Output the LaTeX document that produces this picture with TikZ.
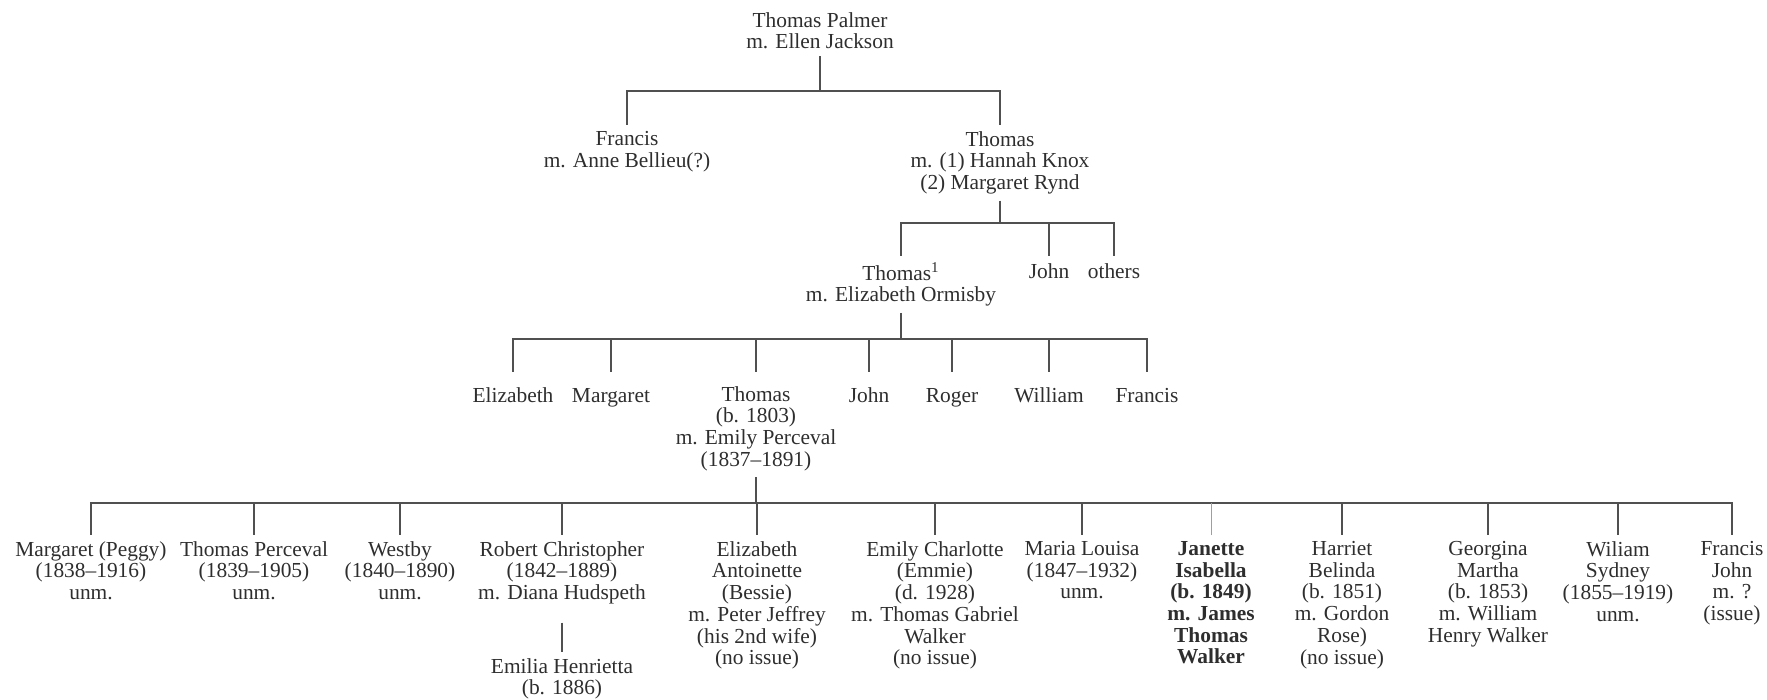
\documentclass[tikz,border=0pt]{standalone}
\usepackage{fontspec}
\setmainfont{Liberation Serif}
\definecolor{ink}{HTML}{2E2E2E}
\definecolor{wire}{HTML}{505050}
\begin{document}
\begin{tikzpicture}[x=0.5pt,y=-0.5pt,
  person/.style={anchor=north, align=center, inner xsep=0pt, inner ysep=3pt,
    text=ink, font=\fontsize{10.7}{10.85}\selectfont,
    execute at begin node={\rule{0pt}{8pt}},
    execute at end node={\rule[-0.5pt]{0pt}{0.5pt}}},
  link/.style={draw=wire, line width=0.6pt},
  faint/.style={draw=wire!55, line width=0.5pt},
]
\useasboundingbox (0,0) rectangle (1767,700);

% generation 0 and 1
\node[person] (palmer)   at (820,6)    {Thomas Palmer\\m. Ellen Jackson};
\node[person] (francisA) at (627,125)  {Francis\\m. Anne Bellieu(?)};
\node[person] (thomasA)  at (1000,125) {Thomas\\m. (1) Hannah Knox\\(2) Margaret Rynd};

% generation 2
\node[person] (thomasB)  at (901,256)  {Thomas\textsuperscript{1}\\m. Elizabeth Ormisby};
\node[person] (johnB)    at (1049,256) {John};
\node[person] (othersB)  at (1114,256) {others};

% generation 3
\node[person] (elizC)    at (513,380)  {Elizabeth};
\node[person] (margC)    at (611,380)  {Margaret};
\node[person] (thomasC)  at (756,380)  {Thomas\\(b. 1803)\\m. Emily Perceval\\(1837--1891)};
\node[person] (johnC)    at (869,380)  {John};
\node[person] (rogerC)   at (952,380)  {Roger};
\node[person] (willC)    at (1049,380) {William};
\node[person] (francisC) at (1147,380) {Francis};

% generation 4
\node[person] (peggy)    at (91,535)   {Margaret (Peggy)\\(1838--1916)\\unm.};
\node[person] (tperc)    at (254,535)  {Thomas Perceval\\(1839--1905)\\unm.};
\node[person] (westby)   at (400,535)  {Westby\\(1840--1890)\\unm.};
\node[person] (robert)   at (562,535)  {Robert Christopher\\(1842--1889)\\m. Diana Hudspeth};
\node[person] (bessie)   at (757,535)  {Elizabeth\\Antoinette\\(Bessie)\\m. Peter Jeffrey\\(his 2nd wife)\\(no issue)};
\node[person] (emmie)    at (935,535)  {Emily Charlotte\\(Emmie)\\(d. 1928)\\m. Thomas Gabriel\\Walker\\(no issue)};
\node[person] (maria)    at (1082,535) {Maria Louisa\\(1847--1932)\\unm.};
\node[person,font=\fontsize{10.7}{10.85}\selectfont\bfseries] (janette) at (1211,535)
  {Janette\\Isabella\\(b. 1849)\\m. James\\Thomas\\Walker};
\node[person] (harriet)  at (1342,535) {Harriet\\Belinda\\(b. 1851)\\m. Gordon\\Rose)\\(no issue)};
\node[person] (georgina) at (1488,535) {Georgina\\Martha\\(b. 1853)\\m. William\\Henry Walker};
\node[person] (wiliam)   at (1618,535) {Wiliam\\Sydney\\(1855--1919)\\unm.};
\node[person] (francisD) at (1732,535) {Francis\\John\\m. ?\\(issue)};

% generation 5
\node[person] (emilia)   at (562,652)  {Emilia Henrietta\\(b. 1886)};

% heights of the sibling bars
\coordinate (bar0) at (0,91);
\coordinate (bar1) at (0,223);
\coordinate (bar2) at (0,339);
\coordinate (bar3) at (0,503);

% connectors
\draw[link] (palmer.south) -- (palmer.south |- bar0);
\foreach \c in {francisA,thomasA}
  \draw[link] (palmer.south |- bar0) -| (\c.north);

\draw[link] (thomasA.south) -- (thomasA.south |- bar1);
\foreach \c in {thomasB,johnB,othersB}
  \draw[link] (thomasA.south |- bar1) -| (\c.north);

\draw[link] (thomasB.south) -- (thomasB.south |- bar2);
\foreach \c in {elizC,margC,thomasC,johnC,rogerC,willC,francisC}
  \draw[link, shorten >=4pt] (thomasB.south |- bar2) -| (\c.north);

\draw[link] (thomasC.south) -- (thomasC.south |- bar3);
\foreach \c in {peggy,tperc,westby,robert,bessie,emmie,maria,harriet,georgina,wiliam,francisD}
  \draw[link] (thomasC.south |- bar3) -| (\c.north);
\draw[faint] (janette.north) -- (janette.north |- bar3);

\draw[link, shorten <=6pt] (robert.south) -- (emilia.north);
\end{tikzpicture}
\end{document}
